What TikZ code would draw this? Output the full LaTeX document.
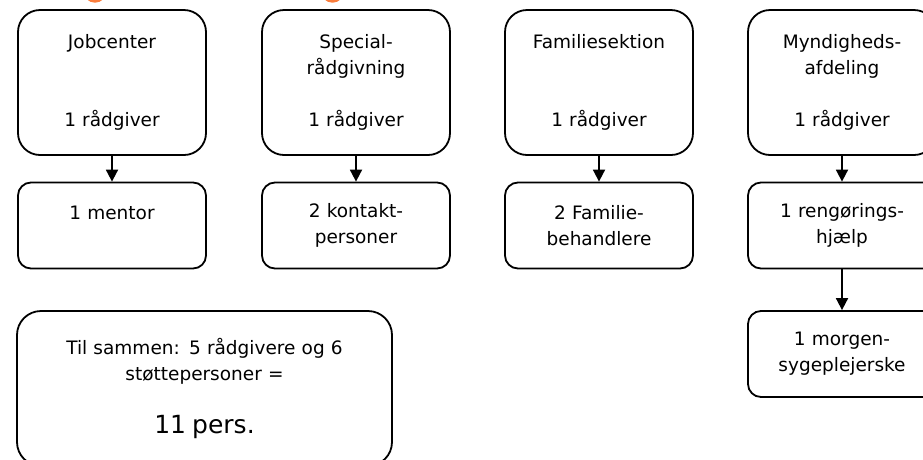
\documentclass[tikz,border=0pt]{standalone}
\usepackage{fontspec}
\setmainfont{DejaVu Sans}
\usetikzlibrary{arrows.meta}
\definecolor{titleorange}{RGB}{250,125,60}
\tikzstyle{unit}=[rectangle,draw,line width=1.8pt,rounded corners=22pt,minimum width=188pt,minimum height=145pt,text width=172pt,align=center]
\tikzstyle{staff}=[unit,rounded corners=13pt,minimum height=86pt]
\tikzstyle{total}=[unit,rounded corners=24pt,minimum width=375pt,minimum height=155pt,text width=360pt]
\tikzstyle{link}=[line width=1.8pt,-{Triangle[length=12pt,width=12pt]}]

\begin{document}
\begin{tikzpicture}[x=1pt,y=-1pt,font=\fontsize{18.5}{26}\selectfont]
    \useasboundingbox (0,0) rectangle (923,459);
    \clip (0,0) rectangle (923,459);
    % what is left of the heading above
    \fill[titleorange] (95,-9) circle (11.7);
    \fill[titleorange] (332.5,-9) circle (11.7);
    \foreach \i/\x/\head/\help in {1/112/{Jobcenter\\[52pt]1 rådgiver}/{1 mentor\\ \mbox{}},%
2/356/{Special-\\rådgivning\\[26pt]1 rådgiver}/{2 kontakt-\\personer},%
3/599/{Familiesektion\\[52pt]1 rådgiver}/{2 Familie-\\behandlere},%
4/842/{Myndigheds-\\afdeling\\[26pt]1 rådgiver}/{1 rengørings-\\hjælp}} {
        \node[unit] (head\i) at (\x, 82.5) {\head};
        \node[staff] (help\i) at (\x, 225.5) {\help};
        \draw[link] (head\i) -- (help\i);
    };
    \node[staff] (morning) at (842, 354) {1 morgen-\\sygeplejerske};
    \draw[link] (help4) -- (morning);
    \node[total] (sum) at (204.5, 388.5) {Til sammen: 5 rådgivere og 6\\støttepersoner =\\[27pt]{\fontsize{25}{26}\selectfont 11 pers.}};
\end{tikzpicture}
\end{document}
